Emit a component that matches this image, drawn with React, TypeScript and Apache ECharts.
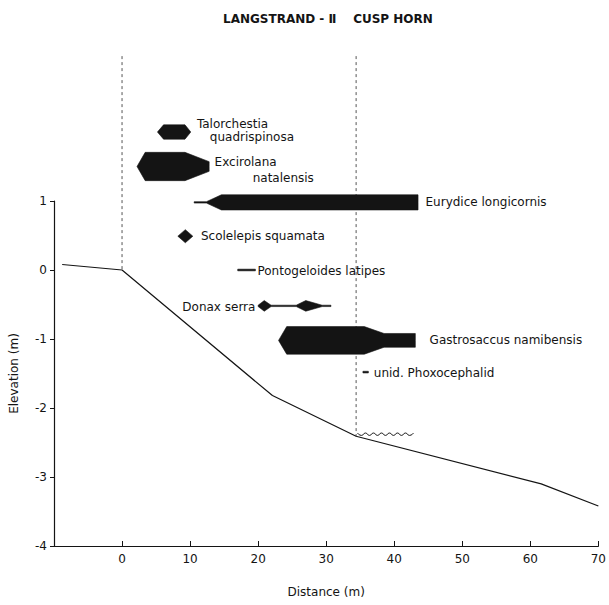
import React, { useEffect, useRef } from "react";
import * as echarts from "echarts";

// ---- data ----
const TITLE = "LANGSTRAND - Ⅱ    CUSP HORN";
const X_TICKS = [-10, 0, 10, 20, 30, 40, 50, 60, 70];
const Y_TICKS = [-4, -3, -2, -1, 0, 1];

// beach profile (distance m, elevation m)
const PROFILE_X = [-8.8, 0, 22.1, 34.4, 61.6, 70];
const PROFILE_Y = [0.08, 0, -1.82, -2.41, -3.1, -3.42];

// vertical dashed reference lines (distance, top elevation, bottom elevation)
const REF_X = [0, 34.4];
const REF_TOP = [3.1, 3.1];
const REF_BOTTOM = [0, -2.41];

// kite diagrams: [distance, half-thickness] about a centre elevation
const SPECIES_NAMES = [
  "Talorchestia quadrispinosa",
  "Excirolana natalensis",
  "Eurydice longicornis",
  "Scolelepis squamata",
  "Pontogeloides latipes",
  "Donax serra",
  "Gastrosaccus namibensis",
  "unid. Phoxocephalid",
];
const SPECIES_ELEV = [2.0, 1.5, 0.98, 0.49, 0.0, -0.52, -1.02, -1.48];
const TALORCHESTIA = [[5.2, 0], [6.1, 0.104], [9.25, 0.104], [10.1, 0]];
const EXCIROLANA = [[2.2, 0], [3.4, 0.205], [9.25, 0.205], [12.8, 0.07], [12.8, 0]];
const EURYDICE = [[10.6, 0.01], [12.4, 0.01], [14.6, 0.11], [43.5, 0.11], [43.5, 0]];
const SCOLELEPIS = [[8.2, 0], [9.3, 0.095], [10.4, 0]];
const PONTOGELOIDES = [[17.0, 0.012], [19.6, 0.012]];
const DONAX = [[20.0, 0.01], [20.9, 0.077], [21.9, 0.01], [25.6, 0.01], [27.0, 0.077], [29.4, 0.01], [30.7, 0.01]];
const GASTROSACCUS = [[23.0, 0], [24.2, 0.2], [35.6, 0.2], [38.5, 0.1], [43.1, 0.1], [43.1, 0]];
const PHOXOCEPHALID = [[35.4, 0.012], [36.2, 0.012]];
const SPECIES_SHAPES = [TALORCHESTIA, EXCIROLANA, EURYDICE, SCOLELEPIS, PONTOGELOIDES, DONAX, GASTROSACCUS, PHOXOCEPHALID];

// wavy marker on the profile (distance range, elevation)
const WAVE_X = [34.6, 43.0];
const WAVE_Y = -2.38;

// ---- label layout (data-unit anchors) ----
const LABEL_LINES = [
  [{ t: "Talorchestia", x: 11.0, y: 2.11, a: "left" }, { t: "quadrispinosa", x: 12.9, y: 1.93, a: "left" }],
  [{ t: "Excirolana", x: 13.6, y: 1.57, a: "left" }, { t: "natalensis", x: 19.2, y: 1.34, a: "left" }],
  [{ t: "Eurydice longicornis", x: 44.6, y: 0.98, a: "left" }],
  [{ t: "Scolelepis squamata", x: 11.6, y: 0.5, a: "left" }],
  [{ t: "Pontogeloides latipes", x: 19.9, y: -0.01, a: "left" }],
  [{ t: "Donax serra", x: 19.6, y: -0.53, a: "right" }],
  [{ t: "Gastrosaccus namibensis", x: 45.2, y: -1.02, a: "left" }],
  [{ t: "unid. Phoxocephalid", x: 37.0, y: -1.49, a: "left" }],
];

const FONT = "'DejaVu Sans', Verdana, sans-serif";
const INK = "#141414";

export default function App() {
  const ref = useRef<HTMLDivElement>(null);
  useEffect(() => {
    const chart = echarts.init(ref.current!, null, { renderer: "svg" });
    const profile = PROFILE_X.map((x, i) => [x, PROFILE_Y[i]]);
    const refSeries = REF_X.map((x, i) => ({
      type: "line",
      data: [[x, REF_TOP[i]], [x, REF_BOTTOM[i]]],
      symbol: "none",
      clip: false,
      silent: true,
      lineStyle: { color: "#555", width: 1, type: [3, 3] },
      z: 1,
    }));
    chart.setOption({
      animation: false,
      title: {
        text: TITLE,
        left: 218,
        top: 8,
        textStyle: { fontFamily: FONT, fontSize: 12, fontWeight: "bold", color: INK },
      },
      grid: { left: 54, right: 8.5, top: 201, bottom: 59, containLabel: false },
      xAxis: {
        type: "value",
        min: -10,
        max: 70,
        interval: 10,
        name: "Distance (m)",
        nameLocation: "middle",
        nameGap: 40,
        nameTextStyle: { fontFamily: FONT, fontSize: 12, color: INK },
        axisLine: { onZero: false, lineStyle: { color: INK, width: 1.2 } },
        axisTick: { inside: true, length: 5, lineStyle: { color: INK } },
        axisLabel: {
          fontFamily: FONT,
          fontSize: 12,
          color: INK,
          margin: 7,
          formatter: (v: number) => (X_TICKS.indexOf(v) > 0 ? String(v) : ""),
        },
        splitLine: { show: false },
      },
      yAxis: {
        type: "value",
        min: -4,
        max: 1,
        interval: 1,
        name: "Elevation (m)",
        nameLocation: "middle",
        nameRotate: 90,
        nameGap: 34,
        nameTextStyle: { fontFamily: FONT, fontSize: 12, color: INK },
        axisLine: { show: true, onZero: false, lineStyle: { color: INK, width: 1.2 } },
        axisTick: { show: true, inside: false, length: 4, lineStyle: { color: INK } },
        axisLabel: {
          fontFamily: FONT,
          fontSize: 12,
          color: INK,
          margin: 7,
          formatter: (v: number) => (Y_TICKS.indexOf(v) >= 0 ? String(v) : ""),
        },
        splitLine: { show: false },
      },
      series: [
        {
          type: "line",
          data: profile,
          symbol: "none",
          lineStyle: { color: INK, width: 1.2 },
          z: 2,
        },
        ...refSeries,
        {
          type: "custom",
          clip: false,
          z: 3,
          data: SPECIES_NAMES.map((_, i) => [i]),
          renderItem: (params: any, api: any) => {
            const i = api.value(0);
            const shape = SPECIES_SHAPES[i];
            const yc = SPECIES_ELEV[i];
            const upper = shape.map(([x, h]) => api.coord([x, yc + h]));
            const lower = shape.slice().reverse().map(([x, h]) => api.coord([x, yc - h]));
            const children: any[] = [
              {
                type: "polygon",
                shape: { points: upper.concat(lower) },
                style: { fill: INK, stroke: INK, lineWidth: 0.6 },
              },
            ];
            LABEL_LINES[i].forEach((l) => {
              const p = api.coord([l.x, l.y]);
              children.push({
                type: "text",
                x: p[0],
                y: p[1],
                style: {
                  text: l.t,
                  fontFamily: FONT,
                  fontSize: 12,
                  fill: INK,
                  align: l.a,
                  verticalAlign: "middle",
                },
              });
            });
            return { type: "group", children };
          },
        },
        {
          type: "custom",
          clip: false,
          z: 3,
          data: [[WAVE_X[0], WAVE_X[1], WAVE_Y]],
          renderItem: (params: any, api: any) => {
            const a = api.coord([api.value(0), api.value(2)]);
            const b = api.coord([api.value(1), api.value(2)]);
            const pts: number[][] = [];
            const step = 4;
            let k = 0;
            for (let px = a[0]; px <= b[0]; px += step, k++) {
              pts.push([px, a[1] + (k % 2 === 0 ? -1.2 : 1.2)]);
            }
            return {
              type: "polyline",
              shape: { points: pts, smooth: 0.6 },
              style: { stroke: INK, lineWidth: 1, fill: "none" },
            };
          },
        },
      ],
    });
    return () => chart.dispose();
  }, []);
  return (
    <div
      ref={ref}
      style={{ position: "fixed", left: 0, top: 0, width: 609, height: 605, background: "#fff" }}
    />
  );
}
